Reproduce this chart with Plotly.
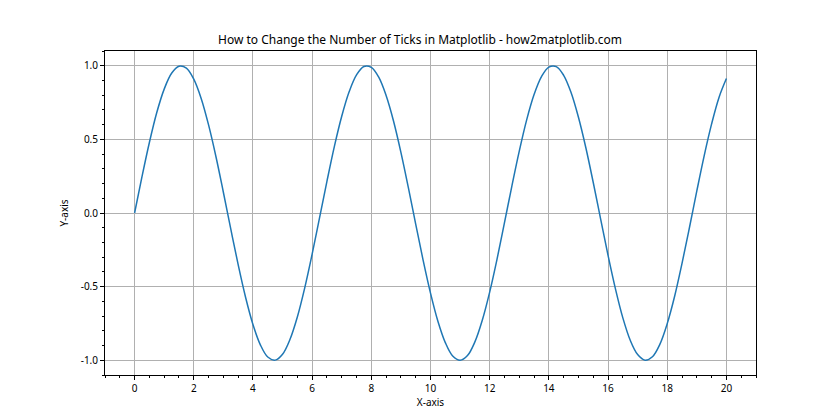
import plotly.graph_objects as go

x_values = [0.0, 0.25, 0.5, 0.75, 1.0, 1.25, 1.5, 1.75, 2.0, 2.25, 2.5, 2.75,
            3.0, 3.25, 3.5, 3.75, 4.0, 4.25, 4.5, 4.75, 5.0, 5.25, 5.5, 5.75,
            6.0, 6.25, 6.5, 6.75, 7.0, 7.25, 7.5, 7.75, 8.0, 8.25, 8.5, 8.75,
            9.0, 9.25, 9.5, 9.75, 10.0, 10.25, 10.5, 10.75, 11.0, 11.25, 11.5, 11.75,
            12.0, 12.25, 12.5, 12.75, 13.0, 13.25, 13.5, 13.75, 14.0, 14.25, 14.5, 14.75,
            15.0, 15.25, 15.5, 15.75, 16.0, 16.25, 16.5, 16.75, 17.0, 17.25, 17.5, 17.75,
            18.0, 18.25, 18.5, 18.75, 19.0, 19.25, 19.5, 19.75, 20.0]

y_values = [0.0, 0.247, 0.479, 0.682, 0.841, 0.949, 0.997, 0.984, 0.909, 0.778, 0.598, 0.382,
            0.141, -0.108, -0.351, -0.572, -0.757, -0.895, -0.978, -0.999, -0.959, -0.859, -0.706, -0.508,
            -0.279, -0.033, 0.215, 0.451, 0.657, 0.823, 0.938, 0.995, 0.989, 0.922, 0.798, 0.625,
            0.412, 0.174, -0.075, -0.320, -0.544, -0.735, -0.880, -0.971, -1.000, -0.968, -0.875, -0.728,
            -0.537, -0.312, -0.066, 0.183, 0.420, 0.632, 0.804, 0.926, 0.991, 0.994, 0.935, 0.818,
            0.650, 0.443, 0.207, -0.041, -0.288, -0.515, -0.712, -0.864, -0.961, -0.999, -0.976, -0.892,
            -0.751, -0.565, -0.342, -0.100, 0.150, 0.390, 0.605, 0.785, 0.913]

x_ticks = [0, 2, 4, 6, 8, 10, 12, 14, 16, 18, 20]
y_ticks = [-1.0, -0.5, 0.0, 0.5, 1.0]
y_tick_labels = ["-1.0", "-0.5", "0.0", "0.5", "1.0"]

FONT = "Noto Sans"

fig = go.Figure()
fig.add_trace(go.Scatter(x=x_values, y=y_values, mode="lines",
                         line=dict(color="#1f77b4", width=1.5, shape="spline", smoothing=1.0),
                         showlegend=False))

axis_common = dict(
    showline=True, linecolor="black", linewidth=1, mirror=True,
    ticks="outside", ticklen=4, tickcolor="black", tickwidth=1,
    showgrid=True, gridcolor="#b0b0b0", gridwidth=0.8,
    zeroline=False,
    tickfont=dict(family=FONT, size=10, color="black"),
)

fig.update_layout(
    width=840, height=420,
    margin=dict(l=105, r=84, t=51, b=45),
    paper_bgcolor="white", plot_bgcolor="white",
    title=dict(text="How to Change the Number of Ticks in Matplotlib - how2matplotlib.com",
               x=0.5, xanchor="center", y=1 - 44 / 420, yanchor="bottom",
               font=dict(family=FONT, size=12, color="black")),
    xaxis=dict(range=[-1, 21], tickvals=x_ticks,
               minor=dict(dtick=0.5, tick0=0, ticks="outside", ticklen=2, tickcolor="black", showgrid=False),
               title=dict(text="X-axis", font=dict(family=FONT, size=10, color="black"), standoff=4),
               **axis_common),
    yaxis=dict(range=[-1.1, 1.1], tickvals=y_ticks, ticktext=y_tick_labels,
               minor=dict(dtick=0.1, tick0=0, ticks="outside", ticklen=2, tickcolor="black", showgrid=False),
               title=dict(text="Y-axis", font=dict(family=FONT, size=10, color="black"), standoff=10),
               **axis_common),
)

fig.write_html("out.html")
